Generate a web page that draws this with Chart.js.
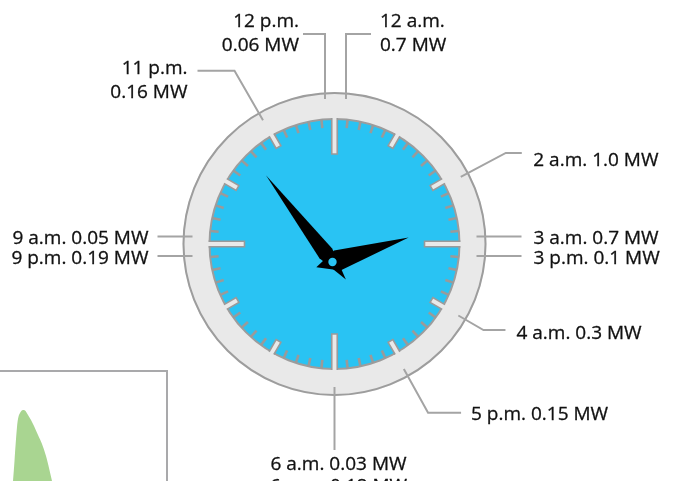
<!DOCTYPE html>
<html><head><meta charset="utf-8">
<script src="https://cdn.jsdelivr.net/npm/chart.js@4"></script>
<style>
html,body{margin:0;padding:0;background:#fff;overflow:hidden;width:673px;height:481px}
#wrap{position:absolute;left:0;top:0;width:673px;height:481px}
#inset{position:absolute;left:0;top:370px;width:166px;height:111px;border-top:2px solid #a9a9ab;border-right:2px solid #a9a9ab;overflow:hidden;box-sizing:content-box}
#inset canvas{display:block}
</style></head><body>
<div id="wrap"><canvas id="clock" width="673" height="481"></canvas></div>
<div id="inset"><canvas id="area" width="166" height="109"></canvas></div>
<script>
// ---- data ----
const timeLabels = ["12 a.m.", "2 a.m.", "3 a.m.", "4 a.m.", "6 a.m.", "9 a.m.", "12 p.m.", "3 p.m.", "5 p.m.", "6 p.m.", "9 p.m.", "11 p.m."];
const hoursOfDay = [0, 2, 3, 4, 6, 9, 12, 15, 17, 18, 21, 23];
const powerMW    = [0.7, 1.0, 0.7, 0.3, 0.03, 0.05, 0.06, 0.1, 0.15, 0.18, 0.19, 0.16];
const faceParts  = ["bezel", "dial"];
const faceShares = [1, 1];
const handNames  = ["minute", "hour"];
const handAngles = [-37.5, 72.2];       // degrees clockwise from 12
const insetX = [13, 14.5, 15.5, 17, 18, 20, 23, 25, 28, 31, 34, 38, 42, 46, 49, 52];
const insetY = [0, 20, 35, 54, 62, 68, 71, 70.5, 66, 61, 55, 46, 37, 25, 13, 0];

const fmtMW = v => (Number.isInteger(v) ? v.toFixed(1) : String(v)) + " MW";
const FONT = '19px "Open Sans"';

const clockPlugin = {
  id: 'clockDecor',
  afterDatasetsDraw(chart) {
    const ctx = chart.ctx;
    const ring = chart.getDatasetMeta(0).data[0];
    const face = chart.getDatasetMeta(1).data[0];
    const cx = ring.x, cy = ring.y;
    const R = ring.outerRadius, r = face.outerRadius;
    const rad = d => d * Math.PI / 180;
    const pt = (deg, rr) => [cx + rr * Math.sin(rad(deg)), cy - rr * Math.cos(rad(deg))];
    ctx.save();
    // rims
    ctx.strokeStyle = '#9d9d9d'; ctx.lineWidth = 2;
    ctx.beginPath(); ctx.arc(cx, cy, R - 1, 0, Math.PI * 2); ctx.stroke();
    ctx.beginPath(); ctx.arc(cx, cy, r, 0, Math.PI * 2); ctx.stroke();
    // ticks
    for (let i = 0; i < 60; i++) {
      ctx.save();
      ctx.translate(cx, cy); ctx.rotate(rad(i * 6));
      if (i % 5) {
        ctx.strokeStyle = '#9a9a9a'; ctx.lineWidth = 2.6;
        ctx.beginPath(); ctx.moveTo(0, -r); ctx.lineTo(0, -r + 8.5); ctx.stroke();
      } else {
        const len = (i % 15 === 0) ? 35 : 13, w = 5.5;
        ctx.fillStyle = '#e9e9e9';
        ctx.fillRect(-w / 2, -r - 1.5, w, len + 1.5);
        ctx.strokeStyle = '#9a9a9a'; ctx.lineWidth = 1.6;
        ctx.beginPath();
        ctx.moveTo(-w / 2, -r - 1); ctx.lineTo(-w / 2, -r + len); ctx.lineTo(w / 2, -r + len); ctx.lineTo(w / 2, -r - 1);
        ctx.stroke();
      }
      ctx.restore();
    }
    // leaders + labels
    ctx.strokeStyle = '#a4a4a4'; ctx.lineWidth = 2; ctx.lineJoin = 'miter';
    ctx.font = FONT; ctx.textBaseline = 'alphabetic';
    const diag = {2: {d: 2, R: 194, L: 16, g: 11.5, dy: 5.6}, 4: {d: 0, R: 172, L: 22, g: 11, dy: 1.5},
                  5: {d: 1, R: 193, L: 33, g: 10, dy: 0}, 11: {d: 0, R: 200, L: 37, g: 10, dy: -3.3, two: true}};
    const line = (pts) => { ctx.beginPath(); ctx.moveTo(pts[0][0], pts[0][1]); for (let k = 1; k < pts.length; k++) ctx.lineTo(pts[k][0], pts[k][1]); ctx.stroke(); };
    const texts = [];
    const put = (s, x, y, al) => texts.push([s, x, y, al]);
    hoursOfDay.forEach((h, i) => {
      const pos = h % 12, am = h < 12;
      const t1 = timeLabels[i], t2 = fmtMW(powerMW[i]);
      if (pos === 0) {
        const x0 = cx + (am ? 11.5 : -9.5), yTop = cy - 210;
        const xe = x0 + (am ? 25 : -22);
        line([[x0, cy - 145], [x0, yTop], [xe, yTop]]);
        const tx = xe + (am ? 9 : -4), al = am ? 'left' : 'right';
        put(t1, tx, yTop - 7, al); put(t2, tx, yTop + 17, al);
      } else if (pos === 6) {
        if (am) line([[cx, cy + 143], [cx, cy + 206]]);
        put(t1 + ' ' + t2, cx + 4, cy + (am ? 226 : 248), 'center');
      } else if (pos === 3 || pos === 9) {
        const y0 = cy + (am ? -7.5 : 12);
        const s = pos === 3 ? 1 : -1;
        line([[cx + s * 142, y0], [cx + s * (pos === 3 ? 187 : 177), y0]]);
        put(t1 + ' ' + t2, cx + s * (pos === 3 ? 199 : 186), y0 + 7.5, s > 0 ? 'left' : 'right');
      } else {
        const c = diag[pos], deg = pos * 30 + c.d;
        const a = pt(deg, 143), e = pt(deg, c.R);
        const s = Math.sin(rad(deg)) > 0 ? 1 : -1;
        const xe = e[0] + s * c.L;
        line([a, e, [xe, e[1]]]);
        const tx = xe + s * c.g, ty = e[1] + c.dy + 7, al = s > 0 ? 'left' : 'right';
        if (c.two) { put(t1, tx, ty, al); put(t2, tx, ty + 24, al); }
        else put(t1 + ' ' + t2, tx, ty, al);
      }
    });
    ctx.fillStyle = '#111'; ctx.strokeStyle = '#111'; ctx.lineWidth = 0.3;
    texts.forEach(([s, x, y, al]) => { ctx.textAlign = al; ctx.fillText(s, x, y); ctx.strokeText(s, x, y); });
    // hands
    const px = cx - 2, py = cy + 18;
    const spec = {minute: {len: 109, tail: 22, base: 11, hw: 8}, hour: {len: 80, tail: 17, base: 5, hw: 10.5}};
    ctx.fillStyle = '#000';
    handNames.forEach((n, k) => {
      const a = rad(handAngles[k]), s = spec[n];
      const ux = Math.sin(a), uy = -Math.cos(a), vx = -uy, vy = ux;
      const bx = px + ux * s.base, by = py + uy * s.base;
      ctx.beginPath();
      ctx.moveTo(px + ux * s.len, py + uy * s.len);
      ctx.lineTo(bx + vx * s.hw, by + vy * s.hw);
      ctx.lineTo(px - ux * s.tail, py - uy * s.tail);
      ctx.lineTo(bx - vx * s.hw, by - vy * s.hw);
      ctx.closePath(); ctx.fill();
    });
    ctx.beginPath(); ctx.arc(px, py, 6, 0, Math.PI * 2); ctx.fill();
    ctx.fillStyle = '#29c3f3';
    ctx.beginPath(); ctx.arc(px, py, 4.2, 0, Math.PI * 2); ctx.fill();
    ctx.restore();
  }
};

function draw() {
  new Chart(document.getElementById('clock'), {
    type: 'doughnut',
    data: {
      labels: faceParts,
      datasets: [
        {data: [faceShares[0]], backgroundColor: '#e9e9e9', borderWidth: 0, weight: 27},
        {data: [faceShares[1]], backgroundColor: '#29c3f3', borderWidth: 0, weight: 125}
      ]
    },
    options: {
      responsive: false, animation: false, events: [],
      cutout: 0, radius: 152,
      layout: {padding: {left: 182, right: 186, top: 92, bottom: 85}},
      plugins: {legend: {display: false}, tooltip: {enabled: false}}
    },
    plugins: [clockPlugin]
  });
  new Chart(document.getElementById('area'), {
    type: 'line',
    data: {datasets: [{
      data: insetX.map((x, i) => ({x, y: insetY[i]})),
      fill: 'origin', backgroundColor: '#a9d591', borderWidth: 0, pointRadius: 0,
      cubicInterpolationMode: 'monotone'
    }]},
    options: {
      responsive: false, animation: false, events: [],
      layout: {padding: 0},
      plugins: {legend: {display: false}, tooltip: {enabled: false}},
      scales: {x: {type: 'linear', display: false, min: 0, max: 166}, y: {display: false, min: 0, max: 109}}
    }
  });
}
if (document.fonts && document.fonts.load) {
  document.fonts.load(FONT).then(draw, draw);
} else draw();
</script>
</body></html>
